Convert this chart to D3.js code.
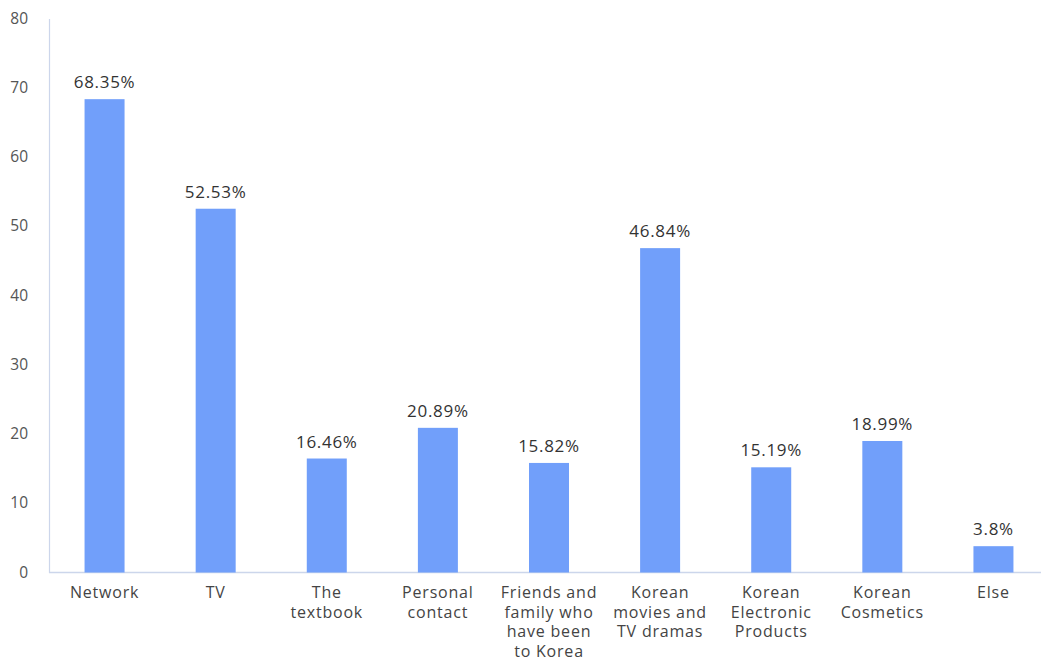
<!DOCTYPE html>
<html>
<head>
<meta charset="utf-8">
<script src="https://cdn.jsdelivr.net/npm/d3@7"></script>
<style>
  html, body { margin: 0; padding: 0; background: #fff; }
  svg { display: block; font-family: "Open Sans", "Noto Sans", sans-serif; }
</style>
</head>
<body>
<svg id="chart" width="1041" height="659"></svg>
<script>
// Sources of information about Korea (percentage of respondents)
const categories = [
  "Network", "TV", "The textbook", "Personal contact",
  "Friends and family who have been to Korea",
  "Korean movies and TV dramas", "Korean Electronic Products",
  "Korean Cosmetics", "Else"
];
const labelLines = [
  ["Network"], ["TV"], ["The", "textbook"], ["Personal", "contact"],
  ["Friends and", "family who", "have been", "to Korea"],
  ["Korean", "movies and", "TV dramas"],
  ["Korean", "Electronic", "Products"],
  ["Korean", "Cosmetics"], ["Else"]
];
const values = [68.35, 52.53, 16.46, 20.89, 15.82, 46.84, 15.19, 18.99, 3.8];
const yTicks = [0, 10, 20, 30, 40, 50, 60, 70, 80];

const svg = d3.select("#chart");
const plotLeft = 49, plotRight = 1049, plotTop = 18.5, plotBottom = 572.5;

const x = d3.scaleBand().domain(categories).range([plotLeft, plotRight]).paddingInner(0.64).paddingOuter(0.32);
const y = d3.scaleLinear().domain([0, 80]).range([plotBottom, plotTop]);

// Y axis: line and tick labels
const yAxis = svg.append("g").attr("transform", `translate(${plotLeft},0)`)
  .call(d3.axisLeft(y).tickValues(yTicks).tickSize(0).tickPadding(21));
yAxis.select(".domain").attr("stroke", "#ccd6eb").attr("stroke-width", 1.2);
yAxis.selectAll("text").attr("fill", "#555").style("font-size", "15.5px")
  .attr("dy", "0.3em")
  .style("font-family", "'Open Sans', 'Noto Sans', sans-serif");

// X axis baseline
svg.append("line")
  .attr("x1", plotLeft).attr("x2", 1041)
  .attr("y1", plotBottom).attr("y2", plotBottom)
  .attr("stroke", "#ccd6eb").attr("stroke-width", 1.5);

// Bars
svg.append("g").selectAll("rect").data(values).join("rect")
  .attr("x", (d, i) => x(categories[i]))
  .attr("width", x.bandwidth())
  .attr("y", d => y(d))
  .attr("height", d => y(0) - y(d))
  .attr("fill", "#719ffa");

// Value labels
svg.append("g").selectAll("text").data(values).join("text")
  .attr("x", (d, i) => x(categories[i]) + x.bandwidth() / 2)
  .attr("y", d => y(d) - 11)
  .attr("text-anchor", "middle")
  .attr("fill", "#333")
  .style("font-size", "17px")
  .style("letter-spacing", "0.7px")
  .text(d => d + "%");

// Category labels (wrapped)
const cat = svg.append("g").selectAll("text").data(labelLines).join("text")
  .attr("x", (d, i) => x(categories[i]) + x.bandwidth() / 2)
  .attr("y", 598)
  .attr("text-anchor", "middle")
  .attr("fill", "#444")
  .style("font-size", "16px")
  .style("letter-spacing", "0.8px");
cat.each(function(lines) {
  const t = d3.select(this);
  lines.forEach((ln, k) => {
    t.append("tspan")
      .attr("x", t.attr("x"))
      .attr("dy", k === 0 ? 0 : 19.5)
      .text(ln);
  });
});
</script>
</body>
</html>
